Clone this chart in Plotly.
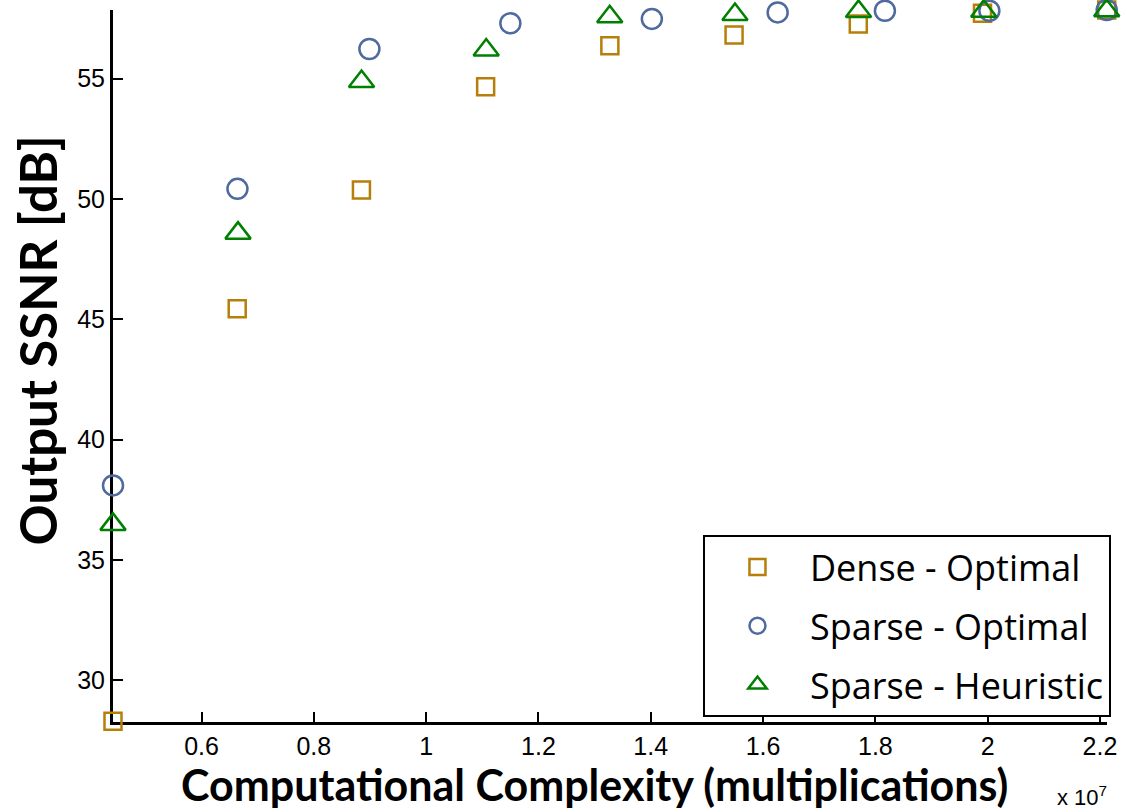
import plotly.graph_objects as go

# x values in units of 1e7 multiplications
dense_x = [0.4424, 0.6636, 0.8848, 1.1060, 1.3272, 1.5484, 1.7696, 1.9908, 2.2120]
dense_y = [28.30, 45.44, 50.37, 54.66, 56.36, 56.81, 57.27, 57.71, 57.85]

sparse_opt_x = [0.4424, 0.664, 0.899, 1.150, 1.402, 1.626, 1.817, 2.003, 2.212]
sparse_opt_y = [38.10, 50.42, 56.23, 57.30, 57.48, 57.75, 57.82, 57.82, 57.85]

sparse_heu_x = [0.4424, 0.665, 0.885, 1.107, 1.327, 1.550, 1.770, 1.993, 2.212]
sparse_heu_y = [36.48, 48.58, 54.88, 56.19, 57.57, 57.66, 57.79, 57.80, 57.82]

x_ticks = [0.6, 0.8, 1.0, 1.2, 1.4, 1.6, 1.8, 2.0, 2.2]
x_tick_labels = ["0.6", "0.8", "1", "1.2", "1.4", "1.6", "1.8", "2", "2.2"]
y_ticks = [30, 35, 40, 45, 50, 55]

fig = go.Figure()
fig.add_trace(go.Scatter(
    x=dense_x, y=dense_y, mode="markers", name="Dense - Optimal", legendgroup="a",
    marker=dict(symbol="square-open", size=17, color="#B57F0A", line=dict(width=2.5)),
    cliponaxis=False))
fig.add_trace(go.Scatter(
    x=sparse_opt_x, y=sparse_opt_y, mode="markers", name="Sparse - Optimal", legendgroup="b",
    marker=dict(symbol="circle-open", size=20, color="#4F6A9E", line=dict(width=2.5)),
    cliponaxis=False))
fig.add_trace(go.Scatter(
    x=sparse_heu_x, y=sparse_heu_y, mode="markers", name="Sparse - Heuristic", legendgroup="c",
    marker=dict(symbol="triangle-up-open", size=22, color="#008000", line=dict(width=2.5)),
    cliponaxis=False))

fig.update_layout(
    width=1127, height=812,
    margin=dict(l=113, r=14, t=10, b=90),
    paper_bgcolor="white", plot_bgcolor="white",
    font=dict(family="Liberation Sans, Arial", size=25, color="black"),
    showlegend=True,
    legend=dict(
        x=1.004, y=0.007, xanchor="right", yanchor="bottom",
        bgcolor="white", bordercolor="black", borderwidth=2,
        font=dict(family="Open Sans", size=36, color="black"),
        tracegroupgap=9, itemwidth=95,
    ),
)
fig.update_xaxes(
    range=[0.4424, 2.2125], showline=True, linewidth=3, linecolor="black",
    ticks="inside", ticklen=10, tickwidth=2, tickcolor="black",
    tickvals=x_ticks, ticktext=x_tick_labels, showgrid=False, zeroline=False,
    layer="below traces", tickfont=dict(size=25),
)
fig.update_yaxes(
    range=[28.27, 57.85], showline=True, linewidth=3, linecolor="black",
    ticks="inside", ticklen=10, tickwidth=2, tickcolor="black",
    tickvals=y_ticks, showgrid=False, zeroline=False,
    layer="below traces", tickfont=dict(size=25),
)
fig.add_annotation(
    text="<b>Computational Complexity (multiplications)</b>",
    xref="paper", yref="paper", x=(597 - 113) / 1000, y=-(784 - 722) / 712,
    xanchor="center", yanchor="middle", showarrow=False,
    font=dict(family="Lato", size=43, color="black"))
fig.add_annotation(
    text="<b>Output SSNR [dB]</b>",
    xref="paper", yref="paper", x=-(113 - 37) / 1000, y=(722 - 340) / 712,
    xanchor="center", yanchor="middle", showarrow=False, textangle=-90,
    font=dict(family="Lato", size=51, color="black"))
fig.add_annotation(
    text="x 10<sup>7</sup>",
    xref="paper", yref="paper", x=1.002, y=-(796 - 722) / 712,
    xanchor="right", yanchor="middle", showarrow=False,
    font=dict(family="Liberation Sans, Arial", size=22, color="black"))

fig.write_html("out.html")
